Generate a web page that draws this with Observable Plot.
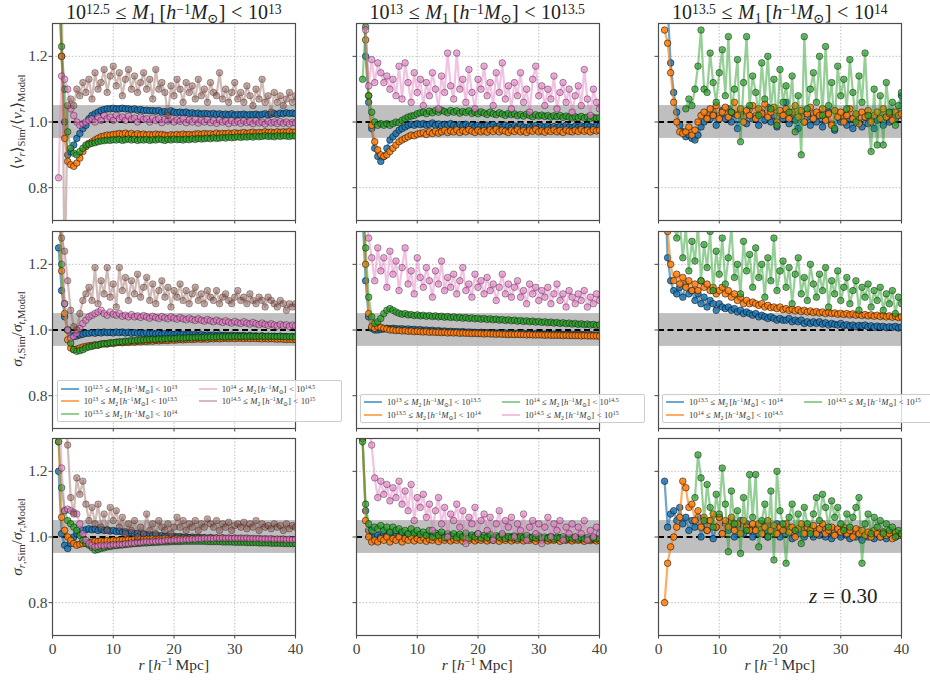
<!DOCTYPE html>
<html>
<head>
<meta charset="utf-8">
<script src="https://cdn.jsdelivr.net/npm/d3@7"></script>
<script src="https://cdn.jsdelivr.net/npm/@observablehq/plot@0.6"></script>
<style>
  html, body { margin: 0; padding: 0; background: #fff; }
  #fig { position: relative; width: 930px; height: 683px; overflow: hidden; background: #fff;
         font-family: "Liberation Serif", "DejaVu Serif", serif; color: #222; }
  #fig sup { font-size: 0.68em; vertical-align: 0.5em; line-height: 0; }
  #fig sub { font-size: 0.68em; vertical-align: -0.28em; line-height: 0; }
  #fig .rel { margin: 0 0.28em; }
  .title { position: absolute; top: 1px; font-size: 20px; line-height: 22px; white-space: nowrap; transform: translateX(-50%); }
  #fig .title sup { vertical-align: 0.4em; }
  .ylab { position: absolute; font-size: 15.5px; line-height: 18px; white-space: nowrap; transform: translate(-50%, -50%) rotate(-90deg); color: #333; }
  .xlab { position: absolute; top: 656px; font-size: 15.5px; line-height: 18px; white-space: nowrap; transform: translateX(-50%); color: #333; }
  .legend { position: absolute; display: grid; grid-auto-flow: column; grid-template-columns: 138px 138px;
            padding: 1px 4px 1px 3px; border: 0.8px solid #cccccc; border-radius: 2px; background: rgba(255,255,255,0.8);
            font-size: 8.7px; color: #333; }
  .legend .item { display: flex; align-items: center; white-space: nowrap; }
  .legend .sw { display: inline-block; width: 18px; height: 2px; margin-right: 5px; flex: none; }
  .ztxt { position: absolute; left: 809px; top: 584px; font-size: 21px; line-height: 24px; white-space: nowrap; color: #222; }
</style>
</head>
<body>
<div id="fig"></div>
<script>
// ---------- radial bins (h^-1 Mpc) ----------
const r = [1,1.5,2,2.5,3,3.5,4,4.5,5,5.5,
 6,6.5,7,7.5,8,8.5,9,9.5,10,10.5,
 11,11.5,12,12.5,13,13.5,14,14.5,15,15.5,
 16,16.5,17,17.5,18,18.5,19,19.5,20,20.5,
 21,21.5,22,22.5,23,23.5,24,24.5,25,25.5,
 26,26.5,27,27.5,28,28.5,29,29.5,30,30.5,
 31,31.5,32,32.5,33,33.5,34,34.5,35,35.5,
 36,36.5,37,37.5,38,38.5,39,39.5,40];

// ---------- axis / reference values ----------
const xDomain = [0, 40];
const yDomain = [0.7, 1.3];
const xTicks = [0, 10, 20, 30, 40];
const yTicks = [0.8, 1.0, 1.2];
const bandLow = 0.95, bandHigh = 1.05, refLine = 1.0;
const redshiftLabel = "0.30";

// ---------- mass bins ----------
const m1Bins = [["12.5","13"],["13","13.5"],["13.5","14"]];
const m2Bins = [["12.5","13"],["13","13.5"],["13.5","14"],["14","14.5"],["14.5","15"]];

// ---------- Row 1: <v_r>_Sim / <v_r>_Model ----------
const vr_c1_0 = [1.45,1.20,1.00,0.90,0.91,0.93,0.95,0.965,0.98,0.99,
 1.01,1.02,1.025,1.03,1.035,1.038,1.04,1.04,1.042,1.04,
 1.04,1.042,1.04,1.04,1.038,1.04,1.036,1.038,1.035,1.036,
 1.034,1.035,1.033,1.035,1.03,1.032,1.03,1.034,1.03,1.028,
 1.03,1.028,1.03,1.026,1.028,1.025,1.027,1.024,1.026,1.025,
 1.024,1.026,1.023,1.025,1.022,1.024,1.022,1.025,1.021,1.023,
 1.022,1.024,1.021,1.023,1.022,1.024,1.021,1.023,1.025,1.022,
 1.024,1.026,1.023,1.027,1.025,1.028,1.026,1.027,1.025];
const vr_c1_1 = [1.50,1.20,0.95,0.88,0.87,0.865,0.875,0.89,0.91,0.925,
 0.935,0.94,0.945,0.95,0.955,0.957,0.96,0.96,0.962,0.963,
 0.965,0.963,0.966,0.962,0.965,0.96,0.964,0.961,0.963,0.96,
 0.962,0.96,0.963,0.961,0.962,0.96,0.958,0.961,0.96,0.962,
 0.96,0.963,0.961,0.962,0.96,0.963,0.964,0.962,0.965,0.963,
 0.964,0.962,0.966,0.963,0.965,0.964,0.966,0.963,0.967,0.965,
 0.966,0.968,0.965,0.967,0.969,0.966,0.968,0.967,0.97,0.968,
 0.969,0.967,0.97,0.968,0.97,0.969,0.971,0.968,0.97];
const vr_c1_2 = [1.50,1.23,1.10,0.97,0.92,0.905,0.90,0.91,0.92,0.93,
 0.932,0.935,0.937,0.94,0.942,0.943,0.945,0.944,0.946,0.945,
 0.947,0.944,0.946,0.948,0.945,0.947,0.944,0.946,0.945,0.947,
 0.944,0.946,0.945,0.948,0.946,0.944,0.947,0.945,0.948,0.946,
 0.947,0.945,0.948,0.946,0.949,0.947,0.95,0.948,0.949,0.951,
 0.949,0.952,0.95,0.951,0.953,0.951,0.954,0.952,0.953,0.955,
 0.953,0.955,0.954,0.956,0.954,0.957,0.955,0.956,0.958,0.956,
 0.957,0.955,0.958,0.956,0.958,0.957,0.956,0.958,0.957];
const vr_c1_3 = [0.83,1.14,1.13,1.10,1.04,1.02,1.00,0.99,0.995,1.00,
 1.005,1.01,1.00,1.015,1.005,1.02,1.01,1.015,1.005,1.02,
 1.01,1.015,1.005,1.018,1.008,1.012,1.00,1.015,1.008,1.01,
 1.00,1.012,1.005,1.01,0.998,1.008,1.003,1.012,1.00,1.006,
 1.002,1.01,0.998,1.006,1.00,1.008,0.997,1.005,1.00,1.007,
 0.998,1.004,0.996,1.006,1.00,1.003,0.995,1.004,0.998,1.002,
 0.996,1.003,0.998,1.001,0.995,1.003,0.997,1.00,0.994,1.002,
 0.997,1.00,0.995,1.001,0.996,1.00,0.994,0.999,0.997];
const vr_c1_4 = [1.60,1.45,0.50,1.05,1.07,1.05,1.10,1.08,1.12,1.09,
 1.13,1.07,1.15,1.10,1.12,1.16,1.09,1.14,1.17,1.11,
 1.15,1.08,1.13,1.16,1.10,1.14,1.09,1.12,1.15,1.10,
 1.13,1.07,1.16,1.10,1.12,1.09,1.02,1.11,1.08,1.13,
 1.10,1.06,1.12,1.09,1.11,1.07,1.13,1.08,1.10,1.06,
 1.12,1.09,1.08,1.15,1.07,1.10,1.06,1.09,1.12,1.07,
 1.09,1.06,1.11,1.08,1.05,1.10,1.07,1.13,1.06,1.08,
 1.03,1.09,1.06,1.08,1.05,1.07,1.09,1.06,1.08];
const vr_c2_0 = [1.50,1.20,1.06,0.98,0.92,0.895,0.88,0.895,0.92,0.945,
 0.955,0.965,0.975,0.98,0.985,0.99,0.993,0.99,0.995,0.992,
 0.995,0.99,0.993,0.997,0.99,0.994,0.988,0.993,0.99,0.995,
 0.99,0.985,0.992,0.988,0.993,0.987,0.99,0.985,0.99,0.987,
 0.985,0.99,0.987,0.992,0.985,0.988,0.984,0.99,0.986,0.983,
 0.988,0.984,0.99,0.985,0.982,0.987,0.984,0.989,0.983,0.986,
 0.984,0.988,0.982,0.986,0.983,0.987,0.984,0.99,0.985,0.983,
 0.987,0.984,0.988,0.985,0.989,0.986,0.984,0.988,0.986];
const vr_c2_1 = [1.60,1.25,1.08,0.99,0.94,0.915,0.90,0.895,0.90,0.91,
 0.92,0.93,0.94,0.945,0.95,0.955,0.96,0.958,0.963,0.965,
 0.967,0.962,0.97,0.965,0.972,0.966,0.97,0.975,0.968,0.973,
 0.97,0.976,0.968,0.974,0.97,0.977,0.972,0.968,0.975,0.97,
 0.974,0.969,0.976,0.971,0.978,0.97,0.975,0.972,0.968,0.975,
 0.971,0.977,0.97,0.974,0.968,0.975,0.972,0.978,0.97,0.973,
 0.969,0.975,0.971,0.976,0.97,0.974,0.968,0.976,0.972,0.97,
 0.975,0.971,0.977,0.972,0.975,0.97,0.976,0.973,0.975];
const vr_c2_2 = [1.13,1.29,1.08,1.03,1.00,0.99,0.995,0.99,0.995,0.99,
 0.995,1.00,0.998,1.005,1.01,1.015,1.018,1.02,1.025,1.028,
 1.03,1.025,1.033,1.028,1.035,1.03,1.036,1.032,1.028,1.035,
 1.03,1.034,1.027,1.032,1.029,1.034,1.026,1.03,1.025,1.031,
 1.027,1.023,1.03,1.025,1.022,1.028,1.024,1.02,1.026,1.022,
 1.025,1.019,1.023,1.018,1.024,1.02,1.016,1.022,1.018,1.021,
 1.017,1.02,1.015,1.019,1.016,1.02,1.014,1.018,1.015,1.012,
 1.016,1.013,1.017,1.012,1.015,1.011,1.014,1.012,1.013];
const vr_c2_3 = [1.45,1.28,1.11,1.19,1.12,1.18,1.15,1.12,1.14,1.10,
 1.13,1.08,1.17,1.07,1.18,1.12,1.06,1.15,1.09,1.13,
 1.05,1.12,1.08,1.15,1.10,1.04,1.14,1.09,1.21,1.11,
 1.07,1.21,1.10,1.13,1.06,1.16,1.09,1.04,1.13,1.10,
 1.17,1.08,1.12,1.05,1.15,1.09,1.18,1.07,1.11,1.04,
 1.12,1.08,1.15,1.06,1.10,1.03,1.13,1.17,1.08,1.11,
 1.05,1.10,1.07,1.14,1.04,1.09,1.12,1.06,1.10,1.03,
 1.08,1.11,1.05,1.16,1.07,1.02,1.10,1.06,1.04];
const vr_c3_0 = [1.45,1.35,1.18,1.09,1.03,0.99,0.97,0.955,0.96,0.95,
 0.945,0.96,0.985,1.00,1.02,1.01,1.03,0.99,1.02,1.035,
 1.01,1.04,1.00,1.025,0.98,1.03,1.015,0.995,1.04,1.01,
 1.02,0.99,1.03,1.005,1.045,1.00,1.02,0.985,1.025,1.01,
 1.06,0.995,1.02,1.005,0.98,1.03,1.00,1.015,0.99,1.025,
 1.00,1.02,0.985,1.01,1.03,0.995,0.975,1.015,1.00,1.02,
 0.99,1.01,0.98,1.02,1.00,0.985,1.015,0.995,1.01,0.98,
 1.005,1.02,0.99,1.015,1.00,1.03,1.01,1.02,1.08];
const vr_c3_1 = [1.28,1.24,1.15,1.06,1.00,0.97,0.965,0.97,0.985,0.96,
 0.975,1.00,1.02,1.03,1.01,1.04,1.02,1.05,1.01,1.03,
 1.045,1.015,1.03,1.06,1.02,1.04,1.00,1.035,1.02,1.05,
 1.01,1.04,1.025,1.055,1.015,1.03,1.045,1.00,1.035,1.02,
 1.04,1.01,1.03,1.05,1.015,1.035,1.00,1.025,1.045,1.01,
 1.03,1.02,1.04,1.005,1.025,0.99,1.035,1.015,1.03,1.00,
 1.02,1.04,1.01,1.025,0.995,1.03,1.015,1.035,1.00,1.02,
 1.03,1.01,1.04,1.015,1.025,1.005,1.03,1.02,1.025];
const vr_c3_2 = [null,null,null,null,null,null,null,1.04,1.07,1.05,
 1.10,1.17,1.28,1.10,1.09,1.21,1.12,1.06,1.15,1.22,
 1.08,1.26,1.03,1.10,1.19,0.94,1.12,1.26,1.05,1.14,
 1.09,1.02,1.18,1.07,1.20,1.04,1.13,0.99,1.16,1.06,
 1.11,1.03,1.14,0.97,1.08,0.90,1.26,1.04,1.10,1.15,
 1.06,1.20,1.02,1.23,1.05,1.12,0.98,1.17,1.08,1.13,
 1.04,1.19,1.09,1.00,1.14,1.06,1.21,1.02,0.91,1.10,
 0.93,1.08,0.93,1.12,1.03,1.06,0.99,1.05,1.09];

// ---------- Row 2: sigma_t,Sim / sigma_t,Model ----------
const st_c1_0 = [1.25,1.12,1.04,1.00,0.985,0.98,0.982,0.985,0.987,0.99,
 0.99,0.992,0.99,0.993,0.991,0.994,0.992,0.993,0.991,0.994,
 0.992,0.994,0.991,0.993,0.99,0.992,0.99,0.991,0.989,0.991,
 0.989,0.99,0.988,0.99,0.987,0.989,0.987,0.988,0.986,0.988,
 0.986,0.987,0.985,0.987,0.985,0.986,0.984,0.986,0.984,0.985,
 0.984,0.985,0.983,0.985,0.983,0.984,0.982,0.984,0.982,0.983,
 0.982,0.983,0.981,0.983,0.981,0.982,0.98,0.982,0.98,0.981,
 0.98,0.981,0.979,0.981,0.979,0.98,0.978,0.98,0.979];
const st_c1_1 = [1.45,1.18,1.05,0.97,0.945,0.94,0.942,0.945,0.948,0.95,
 0.952,0.953,0.955,0.954,0.957,0.958,0.957,0.96,0.959,0.961,
 0.962,0.961,0.963,0.962,0.964,0.963,0.965,0.964,0.966,0.965,
 0.967,0.966,0.968,0.967,0.968,0.969,0.968,0.97,0.969,0.97,
 0.971,0.97,0.971,0.972,0.971,0.972,0.973,0.972,0.973,0.972,
 0.974,0.973,0.974,0.973,0.974,0.975,0.974,0.975,0.974,0.975,
 0.975,0.974,0.975,0.974,0.975,0.974,0.974,0.973,0.974,0.973,
 0.974,0.973,0.972,0.973,0.972,0.971,0.972,0.971,0.971];
const st_c1_2 = [1.45,1.20,1.08,1.00,0.96,0.94,0.935,0.937,0.94,0.945,
 0.948,0.95,0.953,0.954,0.957,0.958,0.959,0.961,0.961,0.963,
 0.964,0.964,0.966,0.966,0.968,0.967,0.969,0.969,0.97,0.97,
 0.971,0.972,0.971,0.973,0.972,0.974,0.973,0.975,0.974,0.975,
 0.976,0.975,0.976,0.977,0.976,0.977,0.978,0.977,0.978,0.978,
 0.979,0.978,0.979,0.979,0.98,0.979,0.98,0.98,0.981,0.98,
 0.98,0.981,0.98,0.981,0.981,0.98,0.981,0.981,0.98,0.981,
 0.981,0.98,0.98,0.981,0.98,0.979,0.98,0.979,0.979];
const st_c1_3 = [1.50,1.40,1.08,1.00,0.975,0.98,0.99,1.005,1.02,1.03,
 1.04,1.045,1.05,1.055,1.06,1.05,1.045,1.055,1.048,1.045,
 1.05,1.042,1.045,1.04,1.047,1.04,1.043,1.038,1.044,1.04,
 1.036,1.042,1.038,1.035,1.041,1.037,1.034,1.04,1.036,1.033,
 1.038,1.034,1.031,1.036,1.032,1.029,1.034,1.03,1.027,1.032,
 1.028,1.025,1.03,1.026,1.023,1.028,1.024,1.021,1.026,1.022,
 1.02,1.025,1.021,1.018,1.023,1.019,1.016,1.021,1.017,1.014,
 1.019,1.015,1.012,1.017,1.013,1.016,1.011,1.015,1.012];
const st_c1_4 = [1.50,1.28,1.24,1.15,1.06,1.01,1.00,1.05,1.09,1.11,
 1.13,1.09,1.19,1.08,1.15,1.11,1.19,1.10,1.14,1.07,
 1.19,1.12,1.16,1.09,1.15,1.11,1.17,1.10,1.13,1.16,
 1.09,1.14,1.08,1.12,1.15,1.10,1.13,1.07,1.12,1.10,
 1.14,1.09,1.12,1.08,1.11,1.13,1.09,1.11,1.08,1.12,
 1.10,1.09,1.12,1.08,1.10,1.11,1.09,1.08,1.10,1.12,
 1.09,1.10,1.08,1.11,1.09,1.08,1.10,1.09,1.07,1.10,
 1.09,1.08,1.07,1.09,1.08,1.06,1.08,1.07,1.08];
const st_c2_0 = [1.35,1.15,1.04,1.005,1.00,1.00,1.002,1.003,1.005,1.004,
 1.005,1.004,1.003,1.004,1.002,1.003,1.001,1.002,1.00,1.001,
 0.999,1.00,0.998,0.999,0.997,0.998,0.996,0.997,0.995,0.996,
 0.995,0.995,0.994,0.995,0.993,0.994,0.993,0.993,0.992,0.993,
 0.992,0.992,0.991,0.992,0.991,0.991,0.99,0.991,0.99,0.99,
 0.99,0.99,0.989,0.99,0.989,0.989,0.988,0.989,0.988,0.988,
 0.988,0.988,0.987,0.988,0.987,0.987,0.987,0.987,0.986,0.987,
 0.986,0.986,0.986,0.986,0.985,0.986,0.985,0.985,0.985];
const st_c2_1 = [1.50,1.20,1.05,1.01,1.005,1.01,1.008,1.005,1.003,1.00,
 1.00,0.998,0.999,0.997,0.998,0.996,0.997,0.995,0.996,0.995,
 0.994,0.995,0.993,0.994,0.993,0.993,0.992,0.993,0.991,0.992,
 0.991,0.992,0.99,0.991,0.99,0.99,0.989,0.99,0.989,0.989,
 0.988,0.989,0.988,0.988,0.987,0.988,0.987,0.987,0.986,0.987,
 0.986,0.987,0.986,0.986,0.985,0.986,0.985,0.985,0.985,0.985,
 0.984,0.985,0.984,0.984,0.984,0.984,0.983,0.984,0.983,0.983,
 0.983,0.983,0.982,0.983,0.982,0.982,0.982,0.982,0.981];
const st_c2_2 = [1.45,1.25,1.10,1.04,1.02,1.025,1.035,1.05,1.06,1.065,
 1.06,1.055,1.051,1.048,1.05,1.046,1.047,1.044,1.046,1.043,
 1.045,1.042,1.044,1.041,1.043,1.04,1.042,1.039,1.041,1.038,
 1.04,1.037,1.039,1.036,1.038,1.035,1.037,1.034,1.036,1.033,
 1.035,1.032,1.034,1.031,1.033,1.03,1.032,1.029,1.031,1.028,
 1.03,1.027,1.029,1.026,1.028,1.025,1.027,1.024,1.026,1.023,
 1.025,1.022,1.024,1.021,1.023,1.02,1.022,1.019,1.021,1.018,
 1.02,1.017,1.019,1.016,1.018,1.015,1.017,1.014,1.016];
const st_c2_3 = [1.50,1.40,1.28,1.22,1.15,1.25,1.18,1.22,1.13,1.24,
 1.17,1.21,1.12,1.19,1.25,1.14,1.18,1.11,1.22,1.16,
 1.13,1.19,1.15,1.10,1.18,1.14,1.21,1.12,1.16,1.13,
 1.17,1.11,1.15,1.19,1.12,1.14,1.10,1.17,1.13,1.15,
 1.11,1.16,1.12,1.14,1.09,1.13,1.17,1.11,1.14,1.10,
 1.13,1.15,1.10,1.12,1.08,1.14,1.11,1.13,1.09,1.12,
 1.10,1.13,1.08,1.11,1.14,1.09,1.11,1.07,1.12,1.10,
 1.08,1.11,1.09,1.12,1.07,1.10,1.08,1.11,1.09];
const st_c3_0 = [1.45,1.22,1.15,1.12,1.11,1.13,1.10,1.14,1.11,1.12,
 1.09,1.11,1.08,1.10,1.07,1.09,1.08,1.06,1.08,1.07,
 1.065,1.07,1.06,1.065,1.055,1.06,1.05,1.055,1.05,1.045,
 1.05,1.04,1.045,1.04,1.035,1.04,1.035,1.03,1.035,1.03,
 1.03,1.035,1.025,1.03,1.025,1.03,1.02,1.025,1.02,1.025,
 1.02,1.025,1.018,1.022,1.015,1.02,1.017,1.015,1.02,1.013,
 1.016,1.012,1.015,1.01,1.014,1.012,1.015,1.01,1.013,1.008,
 1.012,1.009,1.011,1.007,1.01,1.008,1.011,1.006,1.009];
const st_c3_1 = [1.50,1.30,1.20,1.15,1.17,1.14,1.16,1.13,1.15,1.12,
 1.14,1.12,1.15,1.13,1.14,1.12,1.13,1.11,1.12,1.13,
 1.11,1.12,1.10,1.11,1.09,1.10,1.08,1.09,1.08,1.085,
 1.08,1.075,1.08,1.07,1.075,1.068,1.07,1.065,1.07,1.062,
 1.065,1.06,1.063,1.058,1.062,1.056,1.06,1.055,1.058,1.053,
 1.056,1.052,1.055,1.05,1.054,1.05,1.052,1.048,1.051,1.047,
 1.05,1.046,1.049,1.045,1.048,1.044,1.047,1.043,1.046,1.042,
 1.045,1.041,1.044,1.04,1.043,1.039,1.042,1.038,1.04];
const st_c3_2 = [1.45,1.40,1.35,1.32,1.28,1.33,1.22,1.31,1.18,1.27,
 1.21,1.32,1.15,1.26,1.19,1.30,1.12,1.24,1.17,1.28,
 1.14,1.22,1.31,1.16,1.20,1.11,1.27,1.18,1.23,1.13,
 1.25,1.16,1.20,1.10,1.22,1.15,1.28,1.12,1.18,1.21,
 1.13,1.19,1.08,1.17,1.22,1.11,1.16,1.09,1.20,1.14,
 1.10,1.17,1.12,1.19,1.07,1.15,1.11,1.18,1.09,1.13,
 1.16,1.08,1.12,1.15,1.06,1.13,1.10,1.14,1.07,1.12,
 1.09,1.13,1.06,1.11,1.08,1.12,1.05,1.10,1.08];

// ---------- Row 3: sigma_r,Sim / sigma_r,Model ----------
const sr_c1_0 = [1.20,1.01,0.975,0.965,0.98,1.00,1.01,1.015,1.02,1.022,
 1.025,1.022,1.024,1.02,1.023,1.02,1.022,1.018,1.02,1.017,
 1.018,1.015,1.016,1.012,1.013,1.01,1.011,1.008,1.009,1.006,
 1.007,1.005,1.006,1.003,1.004,1.002,1.003,1.00,1.002,1.00,
 1.001,0.999,1.00,0.998,1.00,0.997,0.999,0.997,0.998,0.996,
 0.998,0.996,0.997,0.995,0.997,0.995,0.996,0.994,0.996,0.994,
 0.995,0.993,0.995,0.993,0.994,0.992,0.994,0.992,0.993,0.991,
 0.993,0.991,0.992,0.99,0.992,0.99,0.991,0.989,0.99];
const sr_c1_1 = [1.29,1.06,1.02,1.00,0.99,0.98,0.975,0.978,0.98,0.982,
 0.984,0.985,0.987,0.986,0.988,0.987,0.989,0.988,0.99,0.989,
 0.99,0.991,0.99,0.992,0.991,0.993,0.992,0.994,0.993,0.994,
 0.993,0.995,0.994,0.995,0.994,0.996,0.995,0.996,0.995,0.996,
 0.995,0.996,0.995,0.996,0.995,0.996,0.995,0.996,0.995,0.995,
 0.995,0.994,0.995,0.994,0.995,0.994,0.994,0.993,0.994,0.993,
 0.993,0.992,0.993,0.992,0.992,0.991,0.992,0.991,0.991,0.99,
 0.991,0.99,0.99,0.989,0.99,0.989,0.989,0.988,0.989];
const sr_c1_2 = [1.29,1.15,1.08,1.05,1.04,1.03,1.02,1.005,0.99,0.98,
 0.975,0.968,0.96,0.962,0.965,0.967,0.97,0.971,0.973,0.974,
 0.975,0.976,0.977,0.978,0.979,0.98,0.98,0.981,0.982,0.982,
 0.983,0.983,0.984,0.984,0.985,0.985,0.985,0.986,0.986,0.986,
 0.986,0.987,0.987,0.987,0.987,0.987,0.987,0.987,0.987,0.986,
 0.986,0.986,0.986,0.986,0.985,0.985,0.985,0.985,0.984,0.984,
 0.984,0.984,0.983,0.983,0.983,0.983,0.982,0.982,0.982,0.982,
 0.981,0.981,0.981,0.981,0.98,0.98,0.98,0.98,0.98];
const sr_c1_3 = [1.50,1.21,1.08,1.085,1.08,1.075,1.07,1.04,1.01,0.99,
 0.98,0.975,0.97,0.972,0.975,0.973,0.976,0.974,0.977,0.976,
 0.978,0.977,0.98,0.979,0.982,0.981,0.984,0.983,0.985,0.986,
 0.985,0.987,0.986,0.988,0.987,0.989,0.99,0.989,0.991,0.99,
 0.992,0.991,0.993,0.992,0.994,0.993,0.995,0.994,0.996,0.995,
 0.996,0.995,0.997,0.996,0.997,0.996,0.997,0.996,0.997,0.996,
 0.997,0.996,0.997,0.995,0.996,0.995,0.996,0.994,0.995,0.994,
 0.995,0.993,0.994,0.993,0.994,0.992,0.993,0.992,0.993];
const sr_c1_4 = [1.60,1.50,1.40,1.28,1.12,1.07,1.18,1.13,1.17,1.10,
 1.05,1.09,1.04,1.10,1.03,1.07,1.02,1.09,1.05,1.08,
 1.03,1.06,1.01,1.04,1.02,1.05,1.00,1.03,1.01,1.07,
 1.02,1.04,1.01,1.05,1.03,1.02,1.04,1.01,1.03,1.06,
 1.03,1.05,1.02,1.04,1.03,1.05,1.02,1.04,1.03,1.055,
 1.04,1.03,1.05,1.02,1.04,1.03,1.045,1.02,1.035,1.04,
 1.03,1.045,1.025,1.04,1.03,1.05,1.02,1.04,1.03,1.035,
 1.025,1.04,1.03,1.035,1.02,1.04,1.025,1.035,1.03];
const sr_c2_0 = [1.30,1.08,1.02,1.00,1.00,1.005,1.00,1.01,1.005,1.01,
 1.005,1.01,1.00,1.008,1.003,1.01,1.00,1.006,1.002,1.008,
 1.00,1.005,0.998,1.004,1.00,1.006,0.997,1.003,0.999,1.004,
 0.998,1.003,0.997,1.002,0.996,1.001,0.998,1.003,0.996,1.00,
 0.997,1.002,0.995,1.00,0.997,1.001,0.995,0.999,0.996,1.00,
 0.995,0.999,0.994,0.998,0.996,0.999,0.994,0.997,0.995,0.998,
 0.994,0.997,0.993,0.996,0.994,0.997,0.993,0.996,0.994,0.996,
 0.993,0.995,0.992,0.995,0.993,0.995,0.992,0.994,0.993];
const sr_c2_1 = [1.30,1.05,1.00,0.985,0.99,0.985,0.995,0.99,1.00,0.985,
 0.995,0.99,1.00,0.985,0.995,0.99,1.00,0.988,0.995,0.99,
 0.998,0.987,0.993,0.99,0.997,0.986,0.994,0.99,0.996,0.988,
 0.993,0.99,0.996,0.987,0.994,0.99,0.997,0.988,0.993,0.99,
 0.995,0.988,0.993,0.99,0.996,0.987,0.994,0.99,0.995,0.988,
 0.993,0.99,0.995,0.988,0.993,0.99,0.994,0.987,0.993,0.99,
 0.994,0.988,0.992,0.99,0.994,0.987,0.993,0.99,0.992,0.988,
 0.992,0.99,0.993,0.987,0.992,0.989,0.993,0.988,0.99];
const sr_c2_2 = [1.29,1.10,1.04,1.02,1.03,1.025,1.035,1.02,1.03,1.015,
 1.03,1.02,1.025,1.015,1.02,1.01,1.025,1.012,1.02,1.008,
 1.015,1.005,1.02,1.00,1.012,1.005,1.015,0.998,1.01,1.003,
 1.01,0.998,1.008,1.00,1.012,0.996,1.006,1.00,1.01,0.997,
 1.005,0.998,1.008,0.995,1.004,0.999,1.006,0.996,1.002,0.998,
 1.004,0.995,1.002,0.998,1.005,0.996,1.00,0.997,1.003,0.995,
 1.00,0.996,1.002,0.994,0.999,0.997,1.001,0.994,0.998,0.996,
 1.00,0.994,0.998,0.995,0.999,0.993,0.997,0.995,0.996];
const sr_c2_3 = [1.50,1.45,1.35,1.28,1.18,1.12,1.17,1.13,1.16,1.11,
 1.15,1.12,1.17,1.10,1.14,1.08,1.16,1.05,1.12,1.09,
 1.13,1.06,1.10,1.02,1.08,1.12,1.04,1.09,1.00,1.07,
 1.05,1.10,1.03,1.08,0.98,1.06,1.04,1.09,1.01,1.05,
 1.07,1.02,1.06,0.99,1.04,1.08,1.01,1.05,1.03,1.06,
 1.00,1.04,1.02,1.07,0.99,1.03,1.05,1.01,1.04,0.98,
 1.03,1.06,1.00,1.04,1.02,1.05,0.99,1.03,1.01,1.04,
 1.00,1.03,1.01,1.05,0.99,1.02,1.00,1.03,1.01];
const sr_c3_0 = [1.17,1.03,1.07,1.08,1.05,1.09,1.04,1.06,1.02,1.05,
 1.03,1.06,1.00,1.04,1.02,1.05,0.995,1.03,1.06,1.01,
 1.04,1.02,1.05,1.00,1.03,1.05,1.01,1.04,1.02,1.00,
 1.03,1.01,1.04,1.02,1.00,1.03,1.015,1.04,1.00,1.02,
 1.01,1.03,0.995,1.02,1.01,1.03,1.00,1.015,1.025,1.00,
 1.02,1.005,1.03,1.00,1.015,0.995,1.02,1.01,1.00,1.02,
 1.005,0.995,1.015,1.00,1.02,0.99,1.01,1.00,1.015,0.995,
 1.01,1.00,1.015,0.995,1.01,1.005,1.00,1.01,1.005];
const sr_c3_1 = [0.80,0.92,0.97,1.00,1.03,1.06,1.17,1.15,1.09,1.10,
 1.05,1.08,1.03,1.06,1.02,1.05,1.07,1.03,1.06,1.01,
 1.05,1.03,1.06,1.02,1.04,1.01,1.05,1.03,1.02,1.04,
 1.02,1.04,1.01,1.03,1.05,1.02,1.035,1.01,1.03,1.02,
 1.04,1.015,1.03,1.00,1.025,1.04,1.01,1.03,1.02,1.035,
 1.01,1.025,1.04,1.01,1.02,1.03,1.005,1.025,1.015,1.03,
 1.01,1.02,1.00,1.025,1.01,1.02,1.005,1.015,1.00,1.02,
 1.01,1.00,1.015,1.005,1.01,0.995,1.015,1.005,1.01];
const sr_c3_2 = [null,null,null,null,null,null,null,null,null,null,
 1.12,1.25,1.18,1.05,1.16,1.09,1.03,1.13,1.07,1.21,
 1.10,0.955,1.14,1.04,1.08,0.95,1.12,1.02,1.19,1.06,
 1.19,0.97,1.05,1.10,1.00,1.14,0.93,1.20,1.08,1.04,
 0.92,1.06,1.10,1.02,1.07,0.98,1.09,1.04,1.01,1.07,
 1.12,1.05,1.13,1.09,1.03,1.11,1.06,1.09,1.04,1.02,
 1.07,1.03,1.06,1.09,1.12,0.92,1.04,1.07,1.01,1.06,
 1.03,1.05,1.01,1.04,1.02,1.03,1.00,1.02,1.01];

// ---------- styling (not data) ----------
const palette   = ["#1f77b4", "#ff7f0e", "#2ca02c", "#e377c2", "#8c564b"];
const dotAlpha  = [0.85, 0.85, 0.72, 0.6, 0.5];
const lineAlpha = [0.65, 0.65, 0.5, 0.45, 0.4];

const panelSeries = [
  [[vr_c1_0, vr_c1_1, vr_c1_2, vr_c1_3, vr_c1_4], [vr_c2_0, vr_c2_1, vr_c2_2, vr_c2_3], [vr_c3_0, vr_c3_1, vr_c3_2]],
  [[st_c1_0, st_c1_1, st_c1_2, st_c1_3, st_c1_4], [st_c2_0, st_c2_1, st_c2_2, st_c2_3], [st_c3_0, st_c3_1, st_c3_2]],
  [[sr_c1_0, sr_c1_1, sr_c1_2, sr_c1_3, sr_c1_4], [sr_c2_0, sr_c2_1, sr_c2_2, sr_c2_3], [sr_c3_0, sr_c3_1, sr_c3_2]]
];

const yLabels = [
  "⟨<i>v</i><sub><i>r</i></sub>⟩<sub>Sim</sub>/⟨<i>v</i><sub><i>r</i></sub>⟩<sub>Model</sub>",
  "<i>σ</i><sub><i>t</i>,Sim</sub>/<i>σ</i><sub><i>t</i>,Model</sub>",
  "<i>σ</i><sub><i>r</i>,Sim</sub>/<i>σ</i><sub><i>r</i>,Model</sub>"
];

const massLabel = (lo, hi, idx) =>
  `10<sup>${lo}</sup><span class="rel">≤</span><i>M</i><sub>${idx}</sub>&thinsp;[<i>h</i><sup>−1</sup><i>M</i><sub>⊙</sub>]<span class="rel">&lt;</span>10<sup>${hi}</sup>`;

// ---------- layout ----------
const fig = document.getElementById("fig");
const colLeft = [52.3, 355.7, 658.3];
const rowTop = [23.3, 230.7, 438.0];
const PW = 243, PH = 197;
const colCenter = colLeft.map(x => x + PW / 2);
const rowCenter = rowTop.map(y => y + PH / 2);

function drawPanel(ri, ci) {
  const ML = 45, MR = 5, MT = 5, MB = ri === 2 ? 28 : 10;
  const gridStyle = {stroke: "#b0b0b0", strokeOpacity: 1, strokeWidth: 0.8, strokeDasharray: "1.5,1.8"};
  const marks = [
    Plot.rect([bandLow], {x1: xDomain[0], x2: xDomain[1], y1: bandLow, y2: bandHigh, fill: "#bfbfbf"}),
    Plot.gridX(xTicks, gridStyle),
    Plot.gridY(yTicks, gridStyle),
    Plot.ruleY([refLine], {stroke: "#000", strokeWidth: 1.8, strokeDasharray: "6,3.5"})
  ];
  panelSeries[ri][ci].forEach((vals, k) => {
    const rows = r.map((x, i) => ({r: x, v: vals[i]})).filter(d => d.v != null);
    marks.push(Plot.line(rows, {x: "r", y: "v", stroke: palette[k], strokeOpacity: lineAlpha[k], strokeWidth: 2.2, clip: true}));
    marks.push(Plot.dot(rows, {x: "r", y: "v", r: 3.3, fill: palette[k], fillOpacity: dotAlpha[k],
                               stroke: "#000", strokeOpacity: dotAlpha[k] * 0.75, strokeWidth: 0.8, clip: true}));
  });
  marks.push(
    Plot.axisX(xTicks, {tickSize: 3.5, tickPadding: 4, label: null,
                        tickFormat: ri === 2 ? (d => String(d)) : (() => "")}),
    Plot.axisY(yTicks, {tickSize: 3.5, tickPadding: 1.5, label: null,
                        tickFormat: ci === 0 ? d3.format(".1f") : (() => "")}),
    Plot.frame({stroke: "#4d4d4d", strokeWidth: 1.2})
  );
  const svg = Plot.plot({
    width: PW + ML + MR, height: PH + MT + MB,
    marginLeft: ML, marginRight: MR, marginTop: MT, marginBottom: MB,
    x: {domain: xDomain}, y: {domain: yDomain},
    style: {fontFamily: "'Liberation Serif', 'DejaVu Serif', serif", fontSize: "15.5px",
            background: "transparent", overflow: "visible", color: "#444", maxWidth: "none"},
    marks
  });
  svg.style.position = "absolute";
  svg.style.left = (colLeft[ci] - ML) + "px";
  svg.style.top = (rowTop[ri] - MT) + "px";
  fig.appendChild(svg);
}

for (let ri = 0; ri < 3; ri++) for (let ci = 0; ci < 3; ci++) drawPanel(ri, ci);

// titles
m1Bins.forEach(([lo, hi], ci) => {
  const d = document.createElement("div");
  d.className = "title";
  d.style.left = colCenter[ci] + "px";
  d.innerHTML = massLabel(lo, hi, 1);
  fig.appendChild(d);
});

// y labels
yLabels.forEach((html, ri) => {
  const d = document.createElement("div");
  d.className = "ylab";
  d.style.left = "17px";
  d.style.top = rowCenter[ri] + "px";
  d.innerHTML = html;
  fig.appendChild(d);
});

// x labels
colCenter.forEach(cx => {
  const d = document.createElement("div");
  d.className = "xlab";
  d.style.left = cx + "px";
  d.innerHTML = "<i>r</i> [<i>h</i><sup>−1</sup>&thinsp;Mpc]";
  fig.appendChild(d);
});

// legends (middle row)
const legendTop = [380.3, 394, 394];
const legendLeft = [56.7, 360, 662];
[0, 1, 2].forEach(ci => {
  const bins = m2Bins.slice(ci);
  const nRows = Math.ceil(bins.length / 2);
  const lg = document.createElement("div");
  lg.className = "legend";
  lg.style.left = legendLeft[ci] + "px";
  lg.style.top = legendTop[ci] + "px";
  lg.style.gridTemplateRows = `repeat(${nRows}, 12.6px)`;
  bins.forEach(([lo, hi], k) => {
    const it = document.createElement("div");
    it.className = "item";
    it.innerHTML = `<span class="sw" style="background:${palette[k]};opacity:${lineAlpha[k]}"></span><span>${massLabel(lo, hi, 2)}</span>`;
    lg.appendChild(it);
  });
  fig.appendChild(lg);
});

// redshift annotation
const z = document.createElement("div");
z.className = "ztxt";
z.innerHTML = `<i>z</i><span class="rel">=</span>${redshiftLabel}`;
fig.appendChild(z);
</script>
</body>
</html>
